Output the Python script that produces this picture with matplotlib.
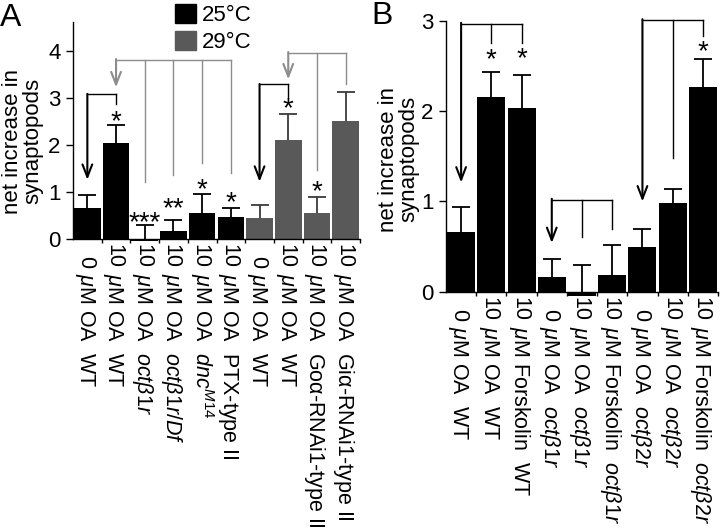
import numpy as np
import matplotlib
matplotlib.use("Agg")
import matplotlib.pyplot as plt
from matplotlib.patches import Patch

plt.rcParams['font.family'] = ['Liberation Sans', 'DejaVu Sans']
plt.rcParams['mathtext.fontset'] = 'custom'
plt.rcParams['mathtext.rm'] = 'Liberation Sans'
plt.rcParams['mathtext.it'] = 'Liberation Sans:italic'

# ---- panel A data ----
a_dose = ["0", "10", "10", "10", "10", "10", "0", "10", "10", "10"]
a_rest = [r"$\mu$M OA  WT", r"$\mu$M OA  WT", r"$\mu$M OA  $oct\beta1r$",
          r"$\mu$M OA  $oct\beta1r/Df$", r"$\mu$M OA  $dnc^{M14}$",
          r"$\mu$M OA  PTX-type II", r"$\mu$M OA  WT", r"$\mu$M OA  WT",
          r"$\mu$M OA  Goα-RNAi1-type II", r"$\mu$M OA  Giα-RNAi1-type II"]
a_vals = [0.65, 2.05, -0.04, 0.18, 0.56, 0.47, 0.44, 2.10, 0.56, 2.52]
a_errs = [0.28, 0.37, 0.34, 0.22, 0.40, 0.19, 0.28, 0.57, 0.33, 0.60]
a_temp = ["25", "25", "25", "25", "25", "25", "29", "29", "29", "29"]
a_stars = {1: ("*", 2.62), 2: ("***", 0.47), 3: ("**", 0.76), 4: ("*", 1.18),
           5: ("*", 0.89), 7: ("*", 2.89), 8: ("*", 1.13)}
# (arrow bar, other bars, bracket top, arrow tip, ends of other bars, colour)
a_brackets = [(0, [1], 3.08, 1.26, [2.87], "k"),
              (1, [2, 3, 4, 5], 3.82, 3.23, [1.22, 1.36, 1.61, 1.40], "#8c8c8c"),
              (6, [7], 3.29, 1.22, [3.01], "k"),
              (7, [8, 9], 3.97, 3.40, [1.47, 3.29], "#8c8c8c")]

# ---- panel B data ----
b_dose = ["0", "10", "10", "0", "10", "10", "0", "10", "10"]
b_rest = [r"$\mu$M OA  WT", r"$\mu$M OA  WT", r"$\mu$M Forskolin  WT",
          r"$\mu$M OA  $oct\beta1r$", r"$\mu$M OA  $oct\beta1r$",
          r"$\mu$M Forskolin  $oct\beta1r$", r"$\mu$M OA  $oct\beta2r$",
          r"$\mu$M OA  $oct\beta2r$", r"$\mu$M Forskolin  $oct\beta2r$"]
b_vals = [0.66, 2.16, 2.04, 0.16, -0.05, 0.185, 0.49, 0.98, 2.27]
b_errs = [0.28, 0.27, 0.36, 0.20, 0.35, 0.335, 0.21, 0.16, 0.31]
b_stars = {1: ("*", 2.63), 2: ("*", 2.64), 8: ("*", 2.72)}
b_brackets = [(0, [1, 2], 2.97, 1.21, [2.76, 2.76], "k"),
              (3, [4, 5], 1.02, 0.54, [0.61, 0.69], "k"),
              (6, [7, 8], 3.01, 1.00, [1.48, 2.83], "k")]

colors = {"25": "black", "29": "#595959"}
ecolors = {"25": "black", "29": "#3a3a3a"}
FS = 15.5


def panel(ax, vals, errs, temps, dose, rest, stars, brackets, ymax, yticks):
    n = len(vals)
    x = np.arange(n)
    ax.bar(x, vals, width=0.93, color=[colors[t] for t in temps], clip_on=False, zorder=2)
    for i in range(n):
        eb = ax.errorbar(x[i], vals[i], yerr=[[0], [errs[i]]], fmt='none',
                         ecolor=ecolors[temps[i]], capsize=6.5, elinewidth=1.3,
                         capthick=1.3, zorder=3)
        eb[1][0].set_visible(False)
    for i, (s, y) in stars.items():
        ax.annotate(s, xy=(i, y), xytext=(0, -9.5), textcoords='offset points',
                    ha='center', va='baseline', fontsize=20)
    for arr, others, top, tip, ends, c in brackets:
        ax.plot([arr, max(others)], [top, top], color=c, lw=1.0, clip_on=False)
        ax.annotate('', xy=(arr, tip), xytext=(arr, top + 0.01),
                    arrowprops=dict(arrowstyle='->,head_length=0.9,head_width=0.35',
                                    color=c, lw=1.5, shrinkA=0, shrinkB=0),
                    annotation_clip=False)
        for o, e in zip(others, ends):
            ax.plot([o, o], [top, e], color=c, lw=1.0, clip_on=False)
    for i in range(n):
        ax.annotate(dose[i], xy=(i, 0), xycoords=('data', 'axes fraction'),
                    xytext=(-5.5, -21), textcoords='offset points', rotation=270,
                    rotation_mode='anchor', ha='right', va='baseline', fontsize=FS,
                    annotation_clip=False)
        ax.annotate(rest[i], xy=(i, 0), xycoords=('data', 'axes fraction'),
                    xytext=(-5.5, -24.5), textcoords='offset points', rotation=270,
                    rotation_mode='anchor', ha='left', va='baseline', fontsize=FS,
                    annotation_clip=False)
    ax.set_xlim(-0.5, n - 0.5)
    ax.set_ylim(0, ymax)
    ax.set_yticks(yticks)
    ax.set_xticks(np.arange(n) + 0.5)
    ax.set_xticklabels([])
    ax.tick_params(axis='x', direction='out', length=3, width=1)
    ax.tick_params(axis='y', direction='out', length=5, width=1, labelsize=16, pad=4)
    for sp in ['top', 'right']:
        ax.spines[sp].set_visible(False)
    for sp in ['left', 'bottom']:
        ax.spines[sp].set_linewidth(1.0)


fig = plt.figure(figsize=(7.2, 5.3), dpi=100)
axA = fig.add_axes([73 / 720, (530 - 239) / 530, 287 / 720, (239 - 22) / 530])
panel(axA, a_vals, a_errs, a_temp, a_dose, a_rest, a_stars, a_brackets, 4.62, [0, 1, 2, 3, 4])
axB = fig.add_axes([446 / 720, (530 - 291.7) / 530, 272 / 720, (291.7 - 21) / 530])
panel(axB, b_vals, b_errs, ["25"] * len(b_vals), b_dose, b_rest, b_stars, b_brackets, 3.0, [0, 1, 2, 3])

fig.text(23 / 720, 1 - 141 / 530, "net increase in\nsynaptopods", rotation=90,
         ha='center', va='center', multialignment='center', fontsize=16, linespacing=0.95)
fig.text(399 / 720, 1 - 159 / 530, "net increase in\nsynaptopods", rotation=90,
         ha='center', va='center', multialignment='center', fontsize=16, linespacing=0.95)
fig.text(0 / 720, 1 - 26 / 530, "A", fontsize=23, ha='left', va='baseline')
fig.text(371 / 720, 1 - 24 / 530, "B", fontsize=23, ha='left', va='baseline')

handles = [Patch(color=colors["25"]), Patch(color=colors["29"])]
fig.legend(handles, ["25°C", "29°C"], loc='upper left',
           bbox_to_anchor=(175 / 720, 1 - 4 / 530), bbox_transform=fig.transFigure,
           frameon=False, fontsize=16, borderpad=0, borderaxespad=0,
           handlelength=0.95, handleheight=0.95, handletextpad=0.25, labelspacing=0.2)

fig.savefig("out.png", dpi=100)
